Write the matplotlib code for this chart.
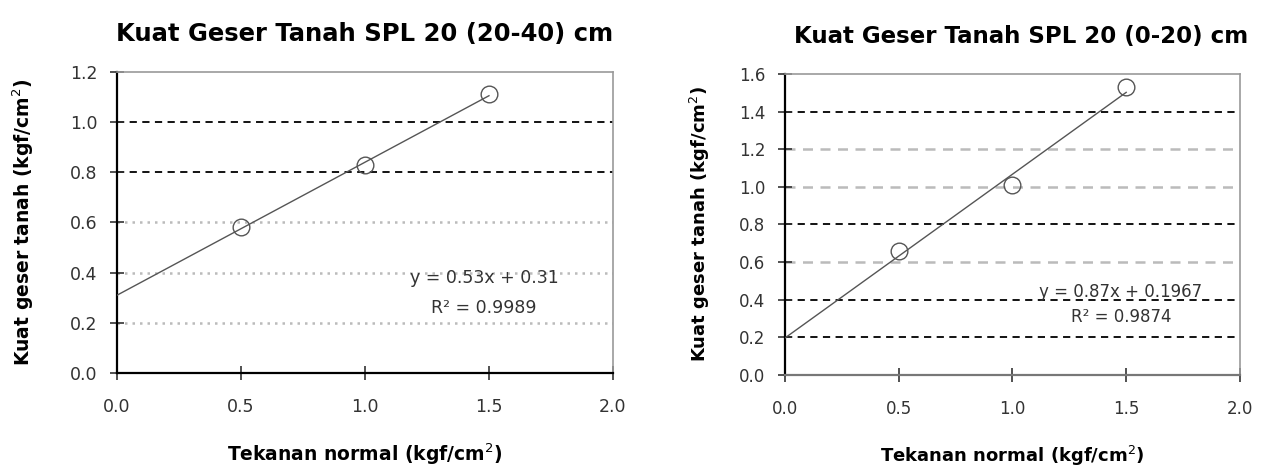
import matplotlib.pyplot as plt
import numpy as np

# data
x_left = [0.5, 1.0, 1.5]
y_left = [0.58, 0.83, 1.11]
slope_left, icpt_left = 0.53, 0.31
eq_left = ["y = 0.53x + 0.31", "R² = 0.9989"]

x_right = [0.5, 1.0, 1.5]
y_right = [0.66, 1.01, 1.53]
slope_right, icpt_right = 0.87, 0.1967
eq_right = ["y = 0.87x + 0.1967", "R² = 0.9874"]

plt.rcParams['font.family'] = ['DejaVu Sans']

fig = plt.figure(figsize=(12.62, 4.72), dpi=100)
ax1 = fig.add_axes([0.0927, 0.2097, 0.393, 0.638])
ax2 = fig.add_axes([0.622, 0.2055, 0.3605, 0.638])


def draw(ax, x, y, a, b, ymax, black_lines, grey_lines, grey_style, title, tsize,
         eq, eq_x, eq_y, fs, lab_fs, bottom_col):
    xs = np.array([0, 1.5])
    ax.plot(xs, a * xs + b, color="#555555", lw=1, zorder=3)
    ax.plot(x, y, "o", mfc="none", mec="#555555", ms=12, mew=1, zorder=4)
    for g in black_lines:
        ax.axhline(g, color="black", ls=(0, (4, 3)), lw=1.3, zorder=1)
    for g in grey_lines:
        ax.axhline(g, color="#bbbbbb", ls=grey_style, lw=1.8, zorder=1)
    ax.set_xlim(0, 2.0)
    ax.set_ylim(0, ymax)
    ax.set_xticks([0, 0.5, 1.0, 1.5, 2.0])
    ax.set_xticklabels(["0.0", "0.5", "1.0", "1.5", "2.0"])
    yt = np.arange(0, ymax + 0.01, 0.2)
    ax.set_yticks(yt)
    ax.set_yticklabels([f"{v:.1f}" for v in yt])
    ax.tick_params(labelsize=fs, colors="#333333", direction="inout", length=10, width=1.2)
    ax.tick_params(axis="x", pad=13)
    ax.tick_params(axis="y", pad=9)
    ax.spines["left"].set_color("black")
    ax.spines["left"].set_linewidth(1.6)
    ax.spines["bottom"].set_color(bottom_col)
    ax.spines["bottom"].set_linewidth(1.6)
    for s in ["right", "top"]:
        ax.spines[s].set_color("#999999")
        ax.spines[s].set_linewidth(1.2)
    ax.set_title(title, fontsize=tsize, fontweight="bold", pad=22)
    ax.set_xlabel("Tekanan normal (kgf/cm$^2$)", fontsize=lab_fs, fontweight="bold", va="center")
    ax.set_ylabel("Kuat geser tanah (kgf/cm$^2$)", fontsize=lab_fs, fontweight="bold", va="center")
    for line, yy in zip(eq, eq_y):
        ax.text(eq_x, yy, line, ha="center", va="center", fontsize=fs, color="#333333")


draw(ax1, x_left, y_left, slope_left, icpt_left, 1.2,
     [1.0, 0.8], [0.6, 0.4, 0.2], (0, (1, 2)),
     "Kuat Geser Tanah SPL 20 (20-40) cm", 17.5,
     eq_left, 1.48, [0.379, 0.259], 12.5, 13.5, "black")
ax1.xaxis.set_label_coords(0.5, -0.27)
ax1.yaxis.set_label_coords(-0.19, 0.5)

draw(ax2, x_right, y_right, slope_right, icpt_right, 1.6,
     [1.4, 0.8, 0.4, 0.2], [1.2, 1.0, 0.6], (0, (4, 3)),
     "Kuat Geser Tanah SPL 20 (0-20) cm", 16.5,
     eq_right, 1.477, [0.441, 0.308], 12, 13, "#777777")
ax2.title.set_x(0.52)
ax2.xaxis.set_label_coords(0.5, -0.27)
ax2.yaxis.set_label_coords(-0.187, 0.5)

fig.savefig("out.png", dpi=100)
